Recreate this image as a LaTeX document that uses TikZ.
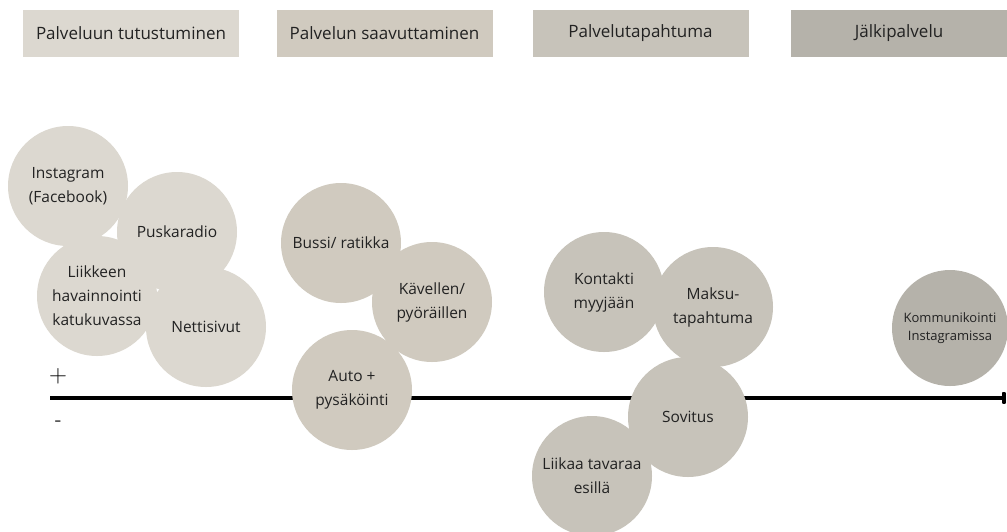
\documentclass[tikz,border=0pt]{standalone}
\usepackage{fontspec}
\setmainfont{Open Sans}
\usetikzlibrary{arrows.meta}
\definecolor{cA}{HTML}{DCD8D0}
\definecolor{cB}{HTML}{D0CABF}
\definecolor{cC}{HTML}{C7C3BA}
\definecolor{cD}{HTML}{B5B2AA}
\definecolor{txt}{HTML}{222222}
\tikzset{
  hdr/.style={rectangle, fill=#1, minimum width=216pt, minimum height=47pt, inner sep=0pt, text=txt, font=\fontsize{17}{20}\selectfont},
  bub/.style={circle, fill=#1, minimum size=120pt, inner sep=0pt, align=center, text=txt, font=\fontsize{15.5}{24}\selectfont},
}
\begin{document}
\begin{tikzpicture}[x=1pt,y=-1pt]
\useasboundingbox (0,0) rectangle (1007,531);
% headers
\node[hdr=cA] (h1) at (131,33.5) {Palveluun tutustuminen};
\node[hdr=cB] (h2) at (384.5,33.5) {Palvelun saavuttaminen};
\node[hdr=cC] (h3) at (640.5,33.5) {Palvelutapahtuma};
\node[hdr=cD] (h4) at (899,33.5) {Jälkipalvelu};
% axis
\coordinate (a0) at (50,398);
\coordinate (a1) at (1006,398);
\draw[line width=3.5pt, -{Rectangle[length=4pt,width=12pt,round]}] (a0) -- (a1);
\node[font=\fontsize{26}{26}\selectfont, inner sep=0pt] (plus) at (58,376) {$+$};
\node[font=\fontsize{22}{22}\selectfont, inner sep=0pt, text=txt!80] (minus) at (58,424) {-};
% group 1
\node[bub=cA] (ig) at (68,186) {Instagram\\(Facebook)};
\node[bub=cA] (pr) at (177,232) {Puskaradio};
\node[bub=cA] (lk) at (97,296) {Liikkeen\\havainnointi\\katukuvassa};
\node[bub=cA] (ns) at (206,327) {Nettisivut};
% group 2
\node[bub=cB] (bu) at (341,243) {Bussi/ ratikka};
\node[bub=cB] (kv) at (432,302) {Kävellen/\\pyöräillen};
\node[bub=cB] (au) at (352,390) {Auto +\\pysäköinti};
% group 3
\node[bub=cC] (ko) at (604,292) {Kontakti\\myyjään};
\node[bub=cC] (mk) at (713,307) {Maksu-\\tapahtuma};
\node[bub=cC] (so) at (688,417) {Sovitus};
\node[bub=cC] (li) at (592,476) {Liikaa tavaraa\\esillä};
% group 4
\node[bub=cD, minimum size=116pt, font=\fontsize{13}{18}\selectfont] (km) at (950,328) {Kommunikointi\\Instagramissa};
\end{tikzpicture}
\end{document}
